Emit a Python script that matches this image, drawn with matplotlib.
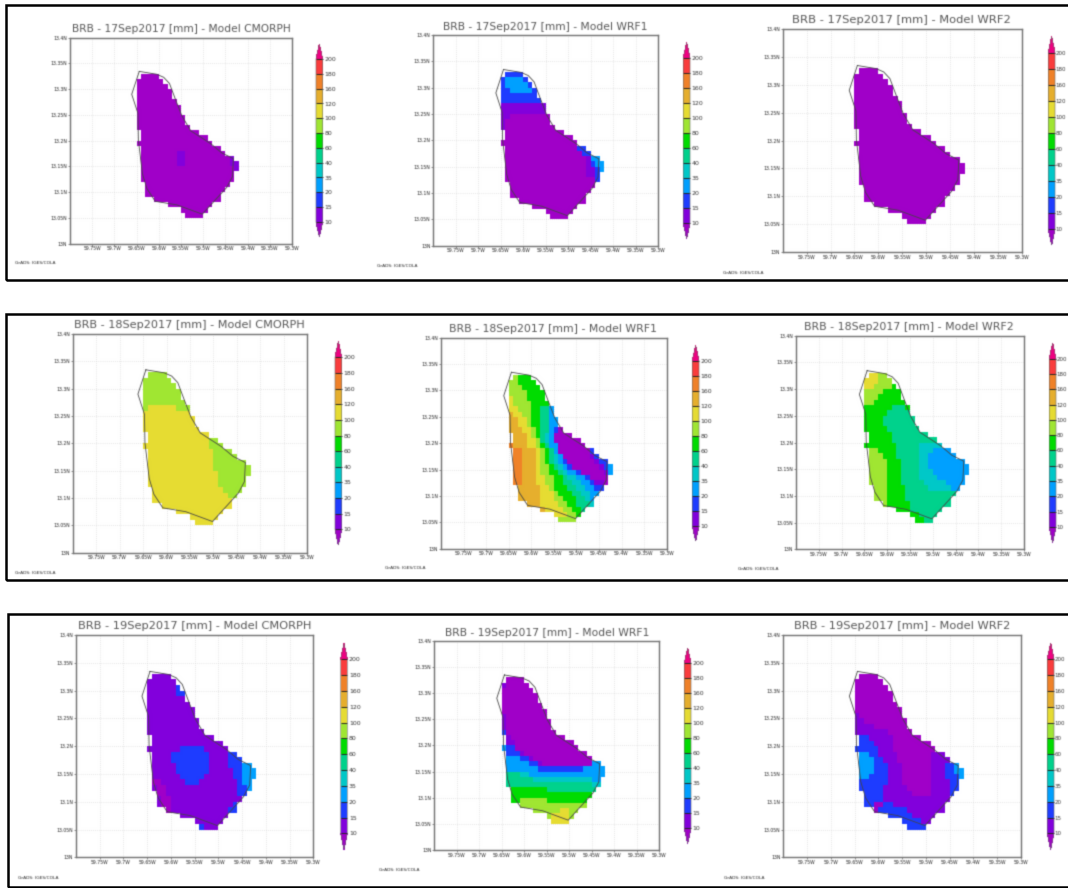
import re
import numpy as np
import matplotlib
matplotlib.use("Agg")
import matplotlib.pyplot as plt
from matplotlib.colors import ListedColormap, BoundaryNorm
from matplotlib.patches import Rectangle

# contour levels and colours of the shaded rain field
levels = [10, 15, 20, 35, 40, 60, 80, 100, 120, 160, 180, 200]
colors = ["#a000c8", "#8200dc", "#1e3cff", "#00a0ff", "#00c8c8", "#00d28c", "#00dc00",
          "#a0e632", "#e6dc32", "#e6af2d", "#f08228", "#fa3c3c", "#f00082"]
# rain in mm for each band letter
bandMm = dict(a=7, b=12, c=17, d=27, e=37, f=50, g=70, h=90, i=110, j=140, k=170, l=190)

xTicks = [-59.75, -59.7, -59.65, -59.6, -59.55, -59.5, -59.45, -59.4, -59.35, -59.3]
xTickLabels = ["59.75W", "59.7W", "59.65W", "59.6W", "59.55W", "59.5W", "59.45W", "59.4W", "59.35W", "59.3W"]
yTicks = [13, 13.05, 13.1, 13.15, 13.2, 13.25, 13.3, 13.35, 13.4]
yTickLabels = ["13N", "13.05N", "13.1N", "13.15N", "13.2N", "13.25N", "13.3N", "13.35N", "13.4N"]

# coast of the island
lonCoast = [-59.644, -59.661, -59.647, -59.646, -59.637, -59.627, -59.608, -59.559, -59.502, -59.447, -59.434,
            -59.432, -59.458, -59.483, -59.528, -59.548, -59.562, -59.576, -59.589, -59.605, -59.644]
latCoast = [13.3345, 13.290, 13.253, 13.201, 13.136, 13.107, 13.082, 13.075, 13.057, 13.109, 13.130,
            13.165, 13.176, 13.194, 13.219, 13.248, 13.279, 13.311, 13.323, 13.329, 13.3345]

# first grid column of each row, rows go down from 13.33N, columns go east from 59.65W
firstCol = [1, 0, 0, 0, 0, 0, 0, 0, 0, 0, 0, 1, 1, 0, 1, 1, 1, 1, 1, 1, 1, 2, 2, 2, 4, 7, 10, 11]

# cells per row, written as band letter + number of cells
cmorph17 = ["a4", "a6", "a7", "a8", "a8", "a9", "a10", "a10", "a11", "a11", "a12", "a13", "a15", "a17", "a18",
            "a8b2a9", "a8b2a10b1", "a8b2a10b2", "a21b1", "a21", "a21", "a19", "a18", "a17", "a15", "a10", "a6", "a4"]
wrf1_17 = ["c4", "c1d4c1", "c1d5c1", "c2d5c1", "c8", "c9", "b10", "b10", "b2a9", "b1a10", "b1a11", "a13", "a15", "a17",
           "a16c2", "a17c2", "a18b1d2", "a18b1c1d2", "a18b2c1d1", "a18b2c1", "a20c1", "a19", "a18", "a17", "a15", "a10", "a6", "a4"]
wrf2_17 = ["a4", "a6", "a7", "a8", "a8", "a9", "a10", "a10", "a11", "a11", "a12", "a13", "a15", "a17", "a18",
           "a19", "a21", "a22", "a22", "a21", "a21", "a19", "a18", "a17", "a15", "a10", "a6", "a4"]
cmorph18 = ["h4", "h6", "h7", "h8", "h8", "h9", "h1i6h3", "i10", "i11", "i11", "i12", "i13", "i13h2", "i14h3",
            "i14h4", "i14h5", "i14h7", "i14h8", "i15h7", "i15h6", "i15h6", "i15h4", "i16h2", "i17", "i15", "i10", "i6", "i4"]
wrf1_18 = ["h1g3", "h2g4", "h3g4", "h4g4", "i1h3g4", "i1h4g4", "i2h3g2f2d1", "j1i2h2g2f2d1", "j2i2h1g2f2d2",
           "j2i2h1g2f2d2", "j3i2h1g1f2d1c1a1", "j3i1h1g1f1e1d1a4", "j3i2h1f1e1d1a6", "k1j3i2h1g1f1d2a6",
           "k2j3i1h1g1f1d1a7c1", "k2j3i1h1g1f1e1d1a6b1c1", "k2j3i1h1g1f1e1d1c1a6b1c2", "k2j3i1h2g1f1e1d1c1a6b1c1d1",
           "k2j3i1h2g2f1e1d2c1a5b1d1", "k2j3i2h2g2f1e2d2c1a4", "k2j3i2h2g2f2e2d2c1b2a1", "j5i2h1g3f2e2d2c2",
           "j5i3h1g3f2e2d2", "j5i3h2g3f2e1d1", "j3i4h2g2f3e1", "j1i4h2g2f1", "i3h2g1", "h4"]
wrf2_18 = ["i2h2", "i3h3", "i2h4g1", "h4g4", "h3g5", "h2g7", "g6f3g1", "g5f5", "g4f7", "g4f7", "g5f7", "g5f8", "g5f10",
           "g7f5e5", "h2g4f5e3d4", "h3g3f5e2d6", "h4g3f4e2d8", "h4g3f4e2d9", "h4g3f4e3d8", "h4g3f4e4d6", "h4g3f5e5d4",
           "h3g4f5e5d2", "h3g4f11", "h3g4f10", "h1g5f9", "g3f7", "g2f4", "g2f2"]
cmorph19 = ["b4", "b6", "b6c1", "b6c2", "b8", "b9", "b10", "b10", "b11", "b11", "b12", "b13", "b15", "b7c5b5",
            "b4c8b4c2", "b4c8b4c3", "b5c7b4c3d2", "b5c7b5c2d3", "b6c5b6c2d3", "a2b5c3b8c1d2", "b1a2b15c2d1",
            "a2b15c2", "b1a2b15", "b1a2b13c1", "a1b12c2", "b10", "b6", "c1b3"]
wrf1_19 = ["a4", "b1a5", "a7", "a8", "a8", "a9", "a10", "b1a9", "b1a10", "b1a10", "c1a11", "b1a12", "b2a13", "d1c2a14",
           "c3b1a14", "d3c2b1a13", "d5c2b1a11d2", "d7c10d5", "f3e2d17", "f6e13d2", "f19e2", "g8f11", "g18", "g2h6g9",
           "h15", "h6i2h2", "h1i4h1", "i4"]
wrf2_19 = ["a4", "a6", "a7", "a8", "a8", "a9", "a10", "b1a9", "b2a9", "b4a7", "b7a5", "c2b5a6", "c3b4a8", "c5b3a9",
           "d2c2b4a7b3", "d3c2b3a7b4", "d3c3b3a6b3c2d1", "d3c3b3a6b3c2d2", "d2c4b3a6b3c3d1", "c6b3a6b4c2", "c5b5a5b4c2",
           "c4b6a4b4c1", "c4b14", "c2a2c2b11", "a1c6b8", "c5b5", "c4b2", "c4"]

days = ["17Sep2017"] * 3 + ["18Sep2017"] * 3 + ["19Sep2017"] * 3
models = ["CMORPH", "WRF1", "WRF2"] * 3
panelCells = [cmorph17, wrf1_17, wrf2_17, cmorph18, wrf1_18, wrf2_18, cmorph19, wrf1_19, wrf2_19]

W, H = 1068, 888


def figBox(x0, y0, x1, y1):
  return [x0 / W, 1 - y1 / H, (x1 - x0) / W, (y1 - y0) / H]


def decodeCells(rows):
  grid = np.full((28, 23), np.nan)
  for r, row in enumerate(rows):
    c = firstCol[r]
    for band, n in re.findall(r"([a-l])(\d+)", row):
      grid[r, c:c + int(n)] = bandMm[band]
      c += int(n)
  return np.ma.masked_invalid(grid)


# the reference is a soft upscaled screenshot, so soften the drawing a little too
def soften(img, dpi):
  pad = 4
  sigma = 0.6
  out = np.zeros((img.shape[0] + 2 * pad, img.shape[1] + 2 * pad, 4))
  out[pad:-pad, pad:-pad, :3] = img[..., :3] * img[..., 3:]
  out[pad:-pad, pad:-pad, 3] = img[..., 3]
  offsets = np.arange(-3, 4)
  weights = np.exp(-0.5 * (offsets / sigma) ** 2)
  weights = weights / weights.sum()
  for axis in (0, 1):
    out = sum(w * np.roll(out, k, axis=axis) for k, w in zip(offsets, weights))
  alpha = np.clip(out[..., 3:], 1e-6, 1)
  out[..., :3] = np.clip(out[..., :3] / alpha, 0, 1)
  return out, -pad, -pad


# pixel layout of the panels: axes box, colorbar x0 x1 tip tip, title centre x y, footer x y
axesBox = [(70, 37.7, 292, 243.5), (433.3, 35, 658.3, 245.7), (782.7, 29, 1022, 252),
           (72.7, 334, 307.3, 552.7), (441, 337.7, 666.7, 548.7), (796, 335.7, 1024, 549.3),
           (76, 635, 313.3, 857.3), (434.3, 640.7, 659, 850), (783.3, 635, 1021, 857.3)]
cbarBox = [(316, 44.3, 322.7, 236.7), (683.3, 42.7, 690, 238.3), (1048.3, 36.7, 1055, 245),
           (335, 341.7, 341.7, 545), (692.3, 345.7, 699, 541), (1049.3, 343.3, 1056, 542.3),
           (340.7, 643.3, 347.3, 849.3), (684.3, 648.3, 691, 843.3), (1047.3, 643.3, 1054, 849.3)]
titlePos = [(181, 29), (545, 26.7), (901.7, 20), (189.7, 325), (553.3, 329), (909, 326.7),
            (195, 626), (546.7, 632.7), (901.7, 626)]
footPos = [(15, 263), (377, 265.7), (723, 273.3), (15, 573), (385, 568), (738, 569.3),
           (18, 878), (379, 870), (724, 877.7)]
frames = [(6, 5, 1090, 280), (6, 313.5, 1090, 580), (8, 613.5, 1090, 886.7)]

fig = plt.figure(figsize=(W / 100, H / 100), dpi=100)

cmap = ListedColormap(colors[1:-1])
cmap.set_under(colors[0])
cmap.set_over(colors[-1])
norm = BoundaryNorm(levels, cmap.N)

lonEdges = -59.65 + 0.01 * np.arange(24)
latEdges = 13.33 - 0.01 * np.arange(29)

for i in range(9):
  x0, y0, x1, y1 = axesBox[i]
  ax = fig.add_axes(figBox(x0, y0, x1, y1))
  mesh = ax.pcolormesh(lonEdges, latEdges, decodeCells(panelCells[i]), cmap=cmap, norm=norm, zorder=2)
  ax.plot(lonCoast, latCoast, color="#444444", lw=0.6, zorder=3)
  ax.set_xlim(-59.8, -59.3)
  ax.set_ylim(13, 13.4)
  ax.set_xticks(xTicks)
  ax.set_xticklabels(xTickLabels, fontsize=3.3, color="#222222")
  ax.set_yticks(yTicks)
  ax.set_yticklabels(yTickLabels, fontsize=3.3, color="#222222")
  ax.tick_params(length=1.2, width=0.4, pad=0.8, color="#333333")
  ax.grid(True, color="#cccccc", lw=0.5, linestyle=(0, (1, 2)))
  ax.set_axisbelow(True)
  for side in ax.spines.values():
    side.set_color("#707070")
    side.set_linewidth(1.0)
  ax.set_agg_filter(soften)

  cx0, cy0, cx1, cy1 = cbarBox[i]
  cax = fig.add_axes(figBox(cx0, cy0, cx1, cy1))
  cb = fig.colorbar(mesh, cax=cax, ticks=levels, extend="both", extendfrac="auto", spacing="uniform", drawedges=True)
  cb.dividers.set_color("#222222")
  cb.dividers.set_linewidth(0.7)
  cb.outline.set_edgecolor("#666666")
  cb.outline.set_linewidth(0.4)
  cb.ax.minorticks_off()
  # right column sits against the picture edge, keep its labels inside
  if i % 3 == 2:
    cb.ax.tick_params(length=0, pad=0.5, labelsize=4.0, labelcolor="#333333")
  else:
    cb.ax.tick_params(length=0, pad=1.2, labelsize=4.5, labelcolor="#333333")
  cax.set_agg_filter(soften)

  tx, ty = titlePos[i]
  title = fig.text(tx / W, 1 - ty / H, "BRB - %s [mm] - Model %s" % (days[i], models[i]),
                   ha="center", va="center", fontsize=0.0346 * (x1 - x0), color="#555555")
  title.set_agg_filter(soften)
  fx, fy = footPos[i]
  foot = fig.text(fx / W, 1 - fy / H, "GrADS: IGES/COLA", ha="left", va="center", fontsize=3.2, color="#222222")
  foot.set_agg_filter(soften)

for x0, y0, x1, y1 in frames:
  fig.add_artist(Rectangle((x0 / W, 1 - y1 / H), (x1 - x0) / W, (y1 - y0) / H, transform=fig.transFigure,
                           fill=False, ec="black", lw=1.8))

fig.savefig("out.png", dpi=100)
